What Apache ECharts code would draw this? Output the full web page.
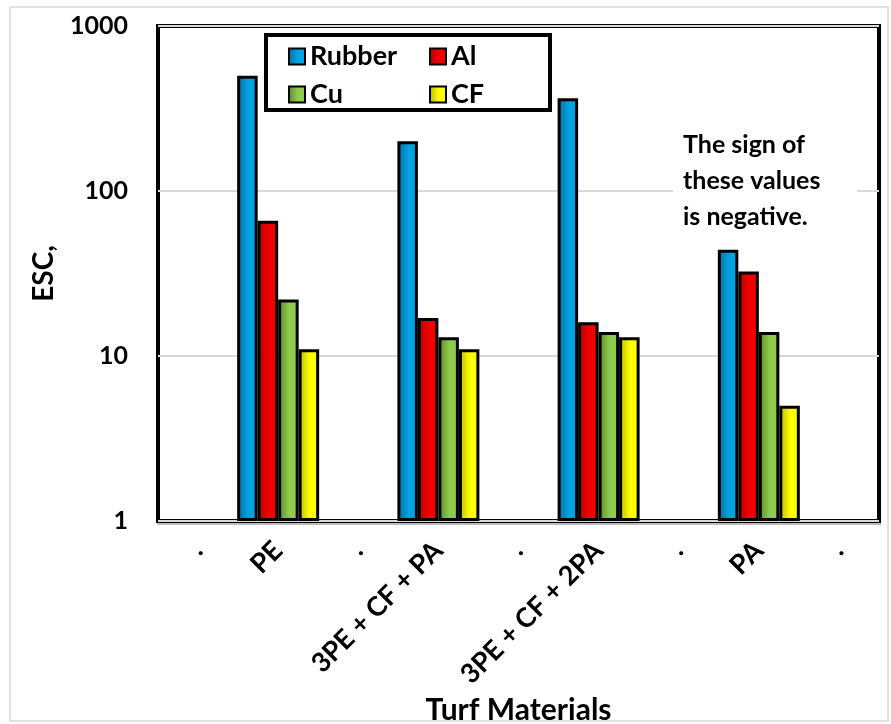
<!DOCTYPE html>
<html>
<head>
<meta charset="utf-8">
<script src="https://cdn.jsdelivr.net/npm/echarts@6/dist/echarts.min.js"></script>
<style>
  html, body { margin: 0; padding: 0; background: #fff; }
  #chart { width: 891px; height: 724px; }
</style>
</head>
<body>
<div id="chart"></div>
<script>
// Turf materials (blank "." slots separate the groups)
const categories = ['.', 'PE', '.', '3PE + CF + PA', '.', '3PE + CF + 2PA', '.', 'PA', '.'];
const seriesNames = ['Rubber', 'Al', 'Cu', 'CF'];
const rubber = [null, 500, null, 200, null, 365, null, 44, null];
const al     = [null, 66,  null, 17,  null, 16,  null, 32.5, null];
const cu     = [null, 22,  null, 13,  null, 14,  null, 14,  null];
const cf     = [null, 11,  null, 11,  null, 13,  null, 5,   null];
const yTicks = [1, 10, 100, 1000];
const noteLines = ['The sign of', 'these values', 'is negative.'];

const FONT = 'Lato, "Open Sans", sans-serif';

function grad(dark, light) {
  return new echarts.graphic.LinearGradient(0, 0, 1, 0, [
    { offset: 0, color: dark },
    { offset: 0.55, color: light },
    { offset: 1, color: light }
  ]);
}
const fills = [
  grad('#0a6b9e', '#00a2e2'),
  grad('#b00000', '#f20000'),
  grad('#5a8a2c', '#8fcc4c'),
  grad('#b8b800', '#ffff00')
];
const values = [rubber, al, cu, cf];

const chart = echarts.init(document.getElementById('chart'), null, { renderer: 'canvas' });

const series = seriesNames.map((name, i) => ({
  name: name,
  type: 'bar',
  data: values[i],
  barWidth: 20.5,
  barGap: '0%',
  itemStyle: { color: fills[i], borderColor: '#000', borderWidth: 3 },
  emphasis: { disabled: true }
}));

const legendText = { fontFamily: FONT, fontWeight: 'bold', fontSize: 27, color: '#000' };

chart.setOption({
  animation: false,
  backgroundColor: '#fff',
  grid: {
    left: 158, right: 12, top: 26, bottom: 203,
    outerBoundsMode: 'none',
    containLabel: false,
    show: true, borderColor: '#000', borderWidth: 4, backgroundColor: 'transparent'
  },
  legend: [
    {
      data: ['Rubber', 'Cu'], orient: 'vertical', left: 283, top: 38,
      itemWidth: 16, itemHeight: 16, itemGap: 11, icon: 'rect',
      textStyle: legendText, selectedMode: false, z: 10
    },
    {
      data: ['Al', 'CF'], orient: 'vertical', left: 424, top: 38,
      itemWidth: 16, itemHeight: 16, itemGap: 11, icon: 'rect',
      textStyle: legendText, selectedMode: false, z: 10
    }
  ],
  xAxis: {
    type: 'category',
    data: categories,
    name: 'Turf Materials',
    nameLocation: 'middle',
    nameGap: 174,
    nameTextStyle: { fontFamily: FONT, fontWeight: 'bold', fontSize: 30, color: '#000' },
    axisLine: { show: false },
    axisTick: { show: false },
    axisLabel: {
      rotate: 45, interval: 0, margin: 25,
      fontFamily: FONT, fontWeight: 'bold', fontSize: 27, color: '#000'
    }
  },
  yAxis: {
    type: 'log',
    logBase: 10,
    min: yTicks[0],
    max: yTicks[yTicks.length - 1],
    name: 'ESC,',
    nameLocation: 'middle',
    nameGap: 100,
    nameTextStyle: { fontFamily: FONT, fontWeight: 'bold', fontSize: 28, color: '#000' },
    axisLine: { show: false },
    axisTick: { show: false },
    axisLabel: {
      margin: 30,
      formatter: (v) => String(v),
      fontFamily: FONT, fontWeight: 'bold', fontSize: 25, color: '#000'
    },
    splitLine: { show: true, lineStyle: { color: '#d9d9d9', width: 2 } }
  },
  graphic: [
    {
      type: 'rect', z: -10, silent: true,
      shape: { x: 10, y: 7, width: 878, height: 714 },
      style: { fill: 'none', stroke: '#d9d9d9', lineWidth: 1.5 }
    },
    {
      type: 'line', z: 5, silent: true,
      shape: { x1: 157, y1: 524, x2: 881, y2: 524 },
      style: { stroke: '#bdbdbd', lineWidth: 2 }
    },
    {
      type: 'rect', z: 5, silent: true,
      shape: { x: 266, y: 35, width: 284, height: 75 },
      style: { fill: '#fff', stroke: '#000', lineWidth: 4 }
    },
    {
      type: 'rect', z: 3, silent: true,
      shape: { x: 673, y: 126, width: 184, height: 106 },
      style: { fill: '#fff' }
    },
    {
      type: 'text', z: 6, silent: true,
      left: 683, top: 127,
      style: {
        text: noteLines.join('\n'),
        font: 'bold 25px ' + FONT,
        lineHeight: 36,
        fill: '#000'
      }
    }
  ],
  series: series
});
</script>
</body>
</html>
